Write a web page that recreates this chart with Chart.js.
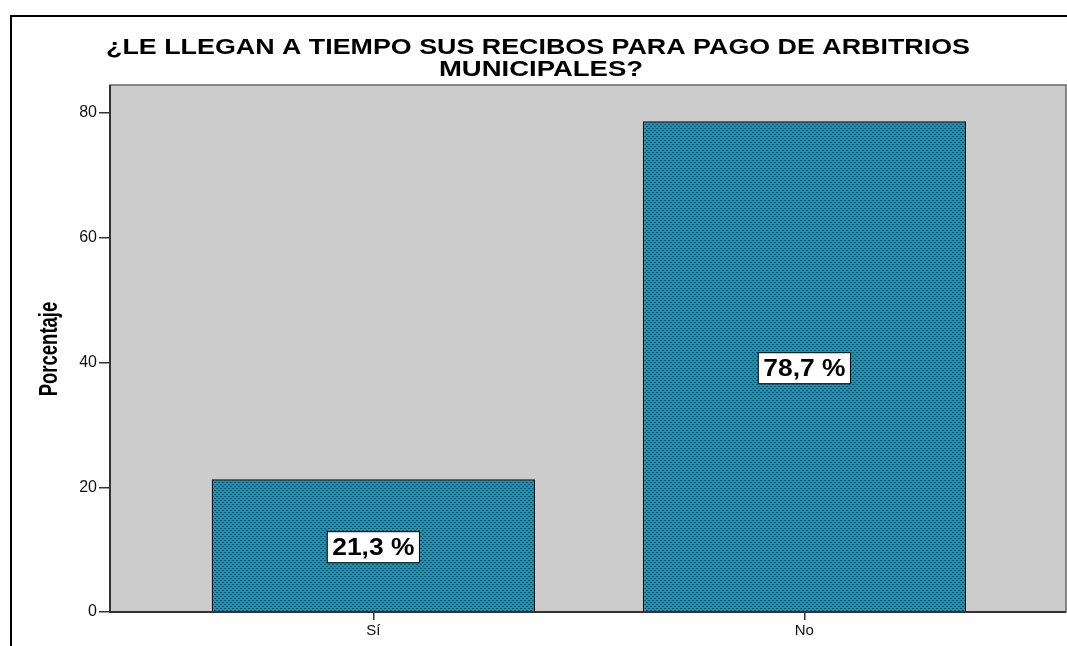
<!DOCTYPE html>
<html>
<head>
<meta charset="utf-8">
<script src="https://cdn.jsdelivr.net/npm/chart.js@4"></script>
<style>
  html, body { margin: 0; padding: 0; background: #fff; }
  #wrap { width: 1067px; height: 646px; }
</style>
</head>
<body>
<div id="wrap"><canvas id="chart"></canvas></div>
<script>
// Datos
const categorias = ['Sí', 'No'];
const porcentajes = [21.3, 78.7];
const marcasY = [0, 20, 40, 60, 80];
const titulo = ['¿LE LLEGAN A TIEMPO SUS RECIBOS PARA PAGO DE ARBITRIOS', 'MUNICIPALES?'];
const tituloY = 'Porcentaje';

const FONT = '"Liberation Sans", Arial, sans-serif';

// relleno punteado estilo SPSS
function makePattern() {
  const c = document.createElement('canvas');
  c.width = 4; c.height = 4;
  const g = c.getContext('2d');
  g.fillStyle = '#238dad';
  g.fillRect(0, 0, 4, 4);
  g.fillStyle = '#17566b';
  g.fillRect(0, 0, 2, 1);
  g.fillRect(2, 2, 2, 1);
  return g.createPattern(c, 'repeat');
}

// texto ensanchado / estrechado como en SPSS
function textoEscalado(ctx, txt, x, y, sx, rot) {
  ctx.save();
  ctx.translate(x, y);
  if (rot) ctx.rotate(rot);
  ctx.scale(sx, 1);
  ctx.fillText(txt, 0, 0);
  ctx.restore();
}

const fondoPlot = {
  id: 'fondoPlot',
  beforeDraw(chart) {
    const { ctx, chartArea: a } = chart;
    ctx.save();
    ctx.fillStyle = '#fff';
    ctx.fillRect(0, 0, chart.width, chart.height);
    // marco exterior
    ctx.strokeStyle = '#000';
    ctx.lineWidth = 2;
    ctx.beginPath();
    ctx.moveTo(11, chart.height);
    ctx.lineTo(11, 16);
    ctx.lineTo(chart.width, 16);
    ctx.stroke();
    ctx.fillStyle = '#cccccc';
    ctx.fillRect(a.left, a.top, a.right - a.left, a.bottom - a.top);

    // título
    ctx.fillStyle = '#000';
    ctx.textAlign = 'center';
    ctx.textBaseline = 'middle';
    ctx.font = 'bold 22px ' + FONT;
    textoEscalado(ctx, titulo[0], 538, 48, 1.22, 0);
    textoEscalado(ctx, titulo[1], 541, 70, 1.25, 0);

    // título del eje Y
    ctx.font = 'bold 25px ' + FONT;
    textoEscalado(ctx, tituloY, 50, 349, 0.74, -Math.PI / 2);
    ctx.restore();
  },
  afterDraw(chart) {
    const { ctx, chartArea: a } = chart;
    ctx.save();
    ctx.strokeStyle = '#666';
    ctx.lineWidth = 1.5;
    ctx.strokeRect(a.left, a.top, a.right - a.left, a.bottom - a.top);
    ctx.strokeStyle = '#333';
    ctx.lineWidth = 2;
    ctx.beginPath();
    ctx.moveTo(a.left, a.top);
    ctx.lineTo(a.left, a.bottom);
    ctx.lineTo(a.right, a.bottom);
    ctx.stroke();
    ctx.restore();
  }
};

const etiquetas = {
  id: 'etiquetas',
  afterDatasetsDraw(chart) {
    const { ctx } = chart;
    const meta = chart.getDatasetMeta(0);
    ctx.save();
    ctx.font = 'bold 24px ' + FONT;
    ctx.textAlign = 'center';
    ctx.textBaseline = 'middle';
    meta.data.forEach((bar, i) => {
      const txt = porcentajes[i].toFixed(1).replace('.', ',') + ' %';
      const cy = (bar.y + bar.base) / 2 + 2;
      const w = ctx.measureText(txt).width * 1.1 + 10;
      const h = 31;
      ctx.fillStyle = '#fff';
      ctx.fillRect(bar.x - w / 2, cy - h / 2, w, h);
      ctx.strokeStyle = '#000';
      ctx.lineWidth = 1;
      ctx.strokeRect(bar.x - w / 2, cy - h / 2, w, h);
      ctx.fillStyle = '#000';
      textoEscalado(ctx, txt, bar.x, cy + 1, 1.1, 0);
    });
    ctx.restore();
  }
};

window.addEventListener('load', () => {
  const ctx = document.getElementById('chart').getContext('2d');
  new Chart(ctx, {
    type: 'bar',
    data: {
      datasets: [{
        data: porcentajes.map((v, i) => ({ x: i, y: v })),
        backgroundColor: makePattern(),
        borderColor: '#111',
        borderWidth: 1.5,
        categoryPercentage: 1,
        barPercentage: 0.75
      }]
    },
    options: {
      responsive: true,
      maintainAspectRatio: false,
      animation: false,
      layout: { padding: { top: 85, right: 1, bottom: 0, left: 0 } },
      plugins: {
        legend: { display: false },
        tooltip: { enabled: false },
        title: { display: false }
      },
      scales: {
        x: {
          type: 'linear',
          offset: false,
          min: -0.611,
          max: 1.607,
          afterBuildTicks(scale) { scale.ticks = categorias.map((c, i) => ({ value: i })); },
          afterFit(scale) { scale.height = 34; },
          ticks: {
            includeBounds: false,
            callback: (v) => categorias[v],
            color: '#111',
            font: { family: FONT, size: 15 },
            padding: 2,
            maxRotation: 0
          },
          grid: { drawOnChartArea: false, drawTicks: true, tickLength: 8, color: '#333', lineWidth: 1.5, offset: false },
          border: { display: false }
        },
        y: {
          min: 0,
          max: 84.5,
          afterBuildTicks(scale) { scale.ticks = marcasY.map(v => ({ value: v })); },
          afterFit(scale) { scale.width = 110; },
          ticks: {
            includeBounds: false,
            color: '#111',
            font: { family: FONT, size: 16 },
            padding: 2
          },
          grid: { drawOnChartArea: false, drawTicks: true, tickLength: 11, color: '#333', lineWidth: 1.5 },
          border: { display: false }
        }
      }
    },
    plugins: [fondoPlot, etiquetas]
  });
});
</script>
</body>
</html>
